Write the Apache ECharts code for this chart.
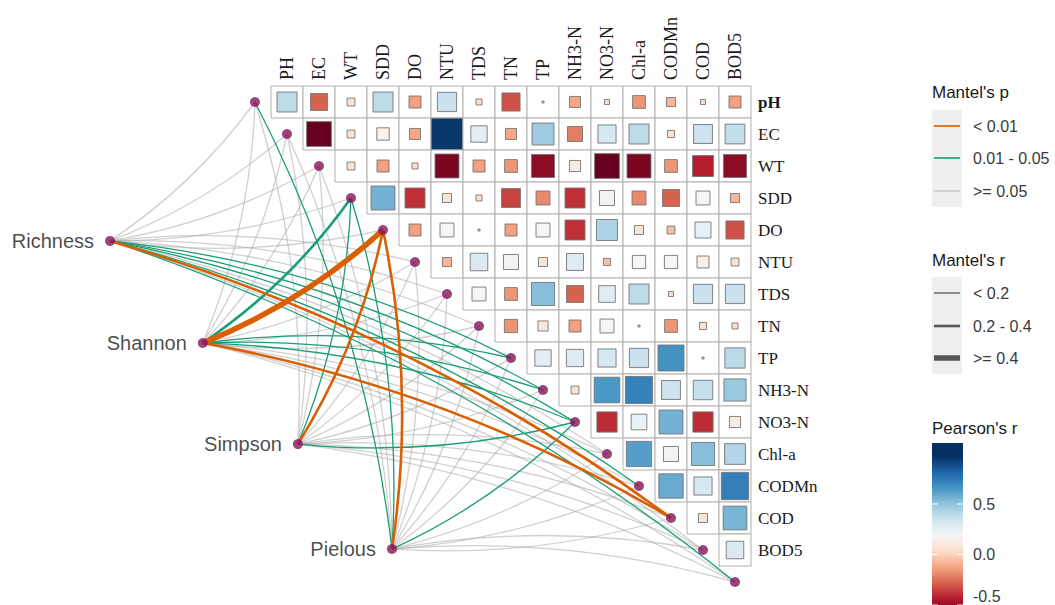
<!DOCTYPE html>
<html>
<head>
<meta charset="utf-8">
<script src="https://cdn.jsdelivr.net/npm/echarts@6/dist/echarts.min.js"></script>
<style>
  html, body { margin: 0; padding: 0; background: #ffffff; }
  #chart { width: 1055px; height: 605px; }
</style>
</head>
<body>
<div id="chart"></div>
<script>
// ---- data -------------------------------------------------------------
const colLabels = ['PH', 'EC', 'WT', 'SDD', 'DO', 'NTU', 'TDS', 'TN', 'TP', 'NH3-N', 'NO3-N', 'Chl-a', 'CODMn', 'COD', 'BOD5'];
const rowLabels = ['pH', 'EC', 'WT', 'SDD', 'DO', 'NTU', 'TDS', 'TN', 'TP', 'NH3-N', 'NO3-N', 'Chl-a', 'CODMn', 'COD', 'BOD5'];

// Pearson's r, row i holds the values for columns i .. 14
const pearsonPH    = [0.39, -0.28, 0.06, 0.39, -0.14, 0.36, 0.035, -0.32, 0.004, -0.12, 0.025, -0.16, -0.08, 0.025, -0.14];
const pearsonEC    = [-0.60, 0.06, 0.15, -0.12, 0.95, 0.26, -0.12, 0.47, -0.22, 0.32, 0.39, 0.05, 0.35, 0.38];
const pearsonWT    = [0.06, -0.14, 0.035, -0.56, -0.14, -0.16, -0.52, 0.12, -0.60, -0.56, -0.16, -0.43, -0.52];
const pearsonSDD   = [0.56, -0.39, 0.08, 0.035, -0.35, -0.19, -0.39, 0.22, -0.19, -0.28, 0.19, -0.08];
const pearsonDO    = [-0.14, 0.19, 0.004, -0.14, 0.19, -0.39, 0.43, 0.08, -0.06, 0.25, -0.32];
const pearsonNTU   = [-0.08, 0.30, 0.22, 0.08, 0.28, -0.05, 0.17, 0.17, 0.14, 0.06];
const pearsonTDS   = [0.19, -0.16, 0.52, -0.28, 0.27, 0.39, 0.025, 0.36, 0.36];
const pearsonTN    = [-0.17, 0.10, -0.14, 0.19, 0.004, -0.16, 0.05, 0.035];
const pearsonTP    = [0.26, 0.29, 0.32, 0.36, 0.66, 0.004, 0.40];
const pearsonNH3N  = [0.06, 0.64, 0.72, 0.35, 0.37, 0.48];
const pearsonNO3N  = [-0.40, 0.24, 0.56, -0.40, 0.12];
const pearsonChla  = [0.62, 0.22, 0.52, 0.42];
const pearsonCODMn = [0.58, 0.32, 0.73];
const pearsonCOD   = [0.08, 0.55];
const pearsonBOD5  = [0.30];
const pearsonRows = [pearsonPH, pearsonEC, pearsonWT, pearsonSDD, pearsonDO, pearsonNTU, pearsonTDS,
  pearsonTN, pearsonTP, pearsonNH3N, pearsonNO3N, pearsonChla, pearsonCODMn, pearsonCOD, pearsonBOD5];

// Mantel tests of each diversity index against the 16 link anchors
const specNames = ['Richness', 'Shannon', 'Simpson', 'Pielous'];
const richnessR = [0.05, 0.02, 0.09, 0.06, 0.12, 0.03, 0.08, 0.10, 0.16, 0.17, 0.18, 0.11, 0.17, 0.24, 0.12, 0.15];
const richnessP = [0.41, 0.63, 0.22, 0.35, 0.12, 0.58, 0.27, 0.19, 0.034, 0.028, 0.021, 0.088, 0.031, 0.006, 0.072, 0.042];
const shannonR  = [0.03, 0.04, 0.07, 0.22, 0.46, 0.05, 0.09, 0.10, 0.16, 0.15, 0.18, 0.11, 0.12, 0.23, 0.10, 0.11];
const shannonP  = [0.52, 0.47, 0.31, 0.026, 0.001, 0.44, 0.23, 0.16, 0.038, 0.041, 0.018, 0.095, 0.067, 0.008, 0.11, 0.083];
const simpsonR  = [0.06, 0.03, 0.08, 0.16, 0.31, 0.02, 0.07, 0.09, 0.11, 0.12, 0.16, 0.10, 0.08, 0.12, 0.09, 0.07];
const simpsonP  = [0.36, 0.55, 0.29, 0.039, 0.004, 0.62, 0.33, 0.21, 0.14, 0.12, 0.045, 0.17, 0.26, 0.09, 0.19, 0.31];
const pielousR  = [0.15, 0.03, 0.06, 0.17, 0.28, 0.02, 0.05, 0.08, 0.10, 0.11, 0.16, 0.09, 0.11, 0.10, 0.08, 0.07];
const pielousP  = [0.044, 0.51, 0.38, 0.033, 0.007, 0.57, 0.42, 0.27, 0.18, 0.15, 0.036, 0.22, 0.13, 0.16, 0.24, 0.29];
const mantelR = [richnessR, shannonR, simpsonR, pielousR];
const mantelP = [richnessP, shannonP, simpsonP, pielousP];

// legend texts and colour-bar ticks
const mantelPLabels = ['< 0.01', '0.01 - 0.05', '>= 0.05'];
const mantelRLabels = ['< 0.2', '0.2 - 0.4', '>= 0.4'];
const pearsonTicks = [0.5, 0.0, -0.5];

// ---- layout & styles ----------------------------------------------------
// node positions in cell units (column, row)
const nodeSpots = [[-5.53, 4.34], [-2.63, 7.53], [0.34, 10.69], [3.28, 13.97]];
const SERIF = "'Liberation Serif', 'DejaVu Serif', serif";
const SANS = "'Liberation Sans', Arial, 'DejaVu Sans', sans-serif";
const RDBU = ['#67001f', '#b2182b', '#d6604d', '#f4a582', '#fddbc7', '#f7f7f7',
              '#d1e5f0', '#92c5de', '#4393c3', '#2166ac', '#053061'];
const colorDomain = [-0.6, 0.97];
const pColors = ['#D95F02', '#1B9E77', 'rgba(170,170,170,0.55)'];
const rWidths = [1.3, 2.6, 5.5];
const NODE_COLOR = '#85135A';

function hexToRgb(h) {
  const n = parseInt(h.slice(1), 16);
  return [(n >> 16) & 255, (n >> 8) & 255, n & 255];
}
function pearsonColor(v) {
  let t = (v - colorDomain[0]) / (colorDomain[1] - colorDomain[0]);
  t = Math.max(0, Math.min(1, t)) * (RDBU.length - 1);
  const i = Math.min(Math.floor(t), RDBU.length - 2);
  const f = t - i;
  const a = hexToRgb(RDBU[i]), b = hexToRgb(RDBU[i + 1]);
  const c = a.map((x, k) => Math.round(x + (b[k] - x) * f));
  return 'rgb(' + c.join(',') + ')';
}
function pClass(p) { return p < 0.01 ? 0 : (p < 0.05 ? 1 : 2); }
function rClass(r) { return r < 0.2 ? 0 : (r < 0.4 ? 1 : 2); }

// matrix cells
const cellData = [];
pearsonRows.forEach((row, i) => {
  row.forEach((v, k) => cellData.push([i + k, i, v]));
});

// anchors sit one column to the left of each row start
const anchorCount = richnessR.length;
const anchorData = [];
for (let k = 0; k < anchorCount; k++) anchorData.push([k - 1, k]);

// links: grey first, then green, orange on top
const links = [];
specNames.forEach((name, s) => {
  for (let k = 0; k < anchorCount; k++) {
    const from = nodeSpots[s], to = anchorData[k];
    const pc = pClass(mantelP[s][k]);
    const rc = rClass(mantelR[s][k]);
    links.push({
      order: 2 - pc,
      coords: [from, to],
      lineStyle: {
        color: pColors[pc],
        width: rWidths[rc],
        curveness: to[1] > from[1] ? 0.09 : -0.09,
        opacity: 1
      }
    });
  }
});
links.sort((a, b) => a.order - b.order);

// colour bar geometry
const bar = { x: 932, top: 443, bottom: 605, w: 31, zeroY: 554.5, perUnit: 101 };
const barStops = [];
for (let y = bar.top; y <= bar.bottom; y += 6) {
  const v = (bar.zeroY - y) / bar.perUnit;
  barStops.push({ offset: (y - bar.top) / (bar.bottom - bar.top), color: pearsonColor(v) });
}

const legendGraphics = [];
function legendTitle(text, y) {
  legendGraphics.push({ type: 'text', x: 932, y: y, silent: true,
    style: { text: text, fontSize: 17, fontFamily: SANS, fill: '#1a1a1a', verticalAlign: 'middle' } });
}
function legendLabel(text, y) {
  legendGraphics.push({ type: 'text', x: 973, y: y, silent: true,
    style: { text: text, fontSize: 16, fontFamily: SANS, fill: '#3a3a3a', verticalAlign: 'middle' } });
}
// Mantel's p
legendTitle("Mantel's p", 92);
legendGraphics.push({ type: 'rect', silent: true, shape: { x: 932, y: 110, width: 30, height: 97 }, style: { fill: '#efefef' } });
[126, 158, 191].forEach((y, i) => {
  legendGraphics.push({ type: 'line', silent: true, shape: { x1: 934, y1: y, x2: 960, y2: y },
    style: { stroke: pColors[i], lineWidth: 1.6 } });
  legendLabel(mantelPLabels[i], y);
});
// Mantel's r
legendTitle("Mantel's r", 260);
legendGraphics.push({ type: 'rect', silent: true, shape: { x: 932, y: 277, width: 30, height: 97 }, style: { fill: '#efefef' } });
[293, 326, 358].forEach((y, i) => {
  legendGraphics.push({ type: 'line', silent: true, shape: { x1: 934, y1: y, x2: 960, y2: y },
    style: { stroke: '#555555', lineWidth: rWidths[i] } });
  legendLabel(mantelRLabels[i], y);
});
// Pearson's r
legendTitle("Pearson's r", 428);
legendGraphics.push({ type: 'rect', silent: true,
  shape: { x: bar.x, y: bar.top, width: bar.w, height: bar.bottom - bar.top },
  style: { fill: { type: 'linear', x: 0, y: 0, x2: 0, y2: 1, colorStops: barStops } } });
pearsonTicks.forEach(v => {
  const y = bar.zeroY - bar.perUnit * v;
  legendGraphics.push({ type: 'line', silent: true, shape: { x1: bar.x, y1: y, x2: bar.x + 6, y2: y }, style: { stroke: '#ffffff', lineWidth: 1 } });
  legendGraphics.push({ type: 'line', silent: true, shape: { x1: bar.x + bar.w - 6, y1: y, x2: bar.x + bar.w, y2: y }, style: { stroke: '#ffffff', lineWidth: 1 } });
  // keep the lowest tick text inside the page
  legendLabel(v.toFixed(1), Math.min(y, 596));
});

// ---- chart ----------------------------------------------------------------
const chart = echarts.init(document.getElementById('chart'), null, { renderer: 'svg' });
chart.setOption({
  animation: false,
  backgroundColor: '#ffffff',
  grid: { left: 95, top: 86, width: 656, height: 512 },
  xAxis: { type: 'value', min: -6, max: 14.5, show: false },
  yAxis: { type: 'value', min: -0.5, max: 15.5, inverse: true, show: false },
  graphic: legendGraphics,
  series: [
    {
      // correlation matrix: cell frame + square sized by |r|
      type: 'custom',
      coordinateSystem: 'cartesian2d',
      silent: true,
      z: 1,
      data: cellData,
      renderItem: function (params, api) {
        const c = api.value(0), r = api.value(1), v = api.value(2);
        const p0 = api.coord([c - 0.5, r - 0.5]);
        const p1 = api.coord([c + 0.5, r + 0.5]);
        const ctr = api.coord([c, r]);
        const w = p1[0] - p0[0], h = p1[1] - p0[1];
        const side = w * Math.sqrt(Math.abs(v));
        return {
          type: 'group',
          children: [
            { type: 'rect', shape: { x: p0[0], y: p0[1], width: w, height: h },
              style: { fill: '#ffffff', stroke: '#b0b0b0', lineWidth: 1 } },
            { type: 'rect', shape: { x: ctr[0] - side / 2, y: ctr[1] - side / 2, width: side, height: side },
              style: { fill: pearsonColor(v), stroke: '#767676', lineWidth: 0.9 } }
          ]
        };
      }
    },
    {
      // column names above the matrix
      type: 'custom',
      coordinateSystem: 'cartesian2d',
      silent: true,
      data: colLabels.map((n, j) => [j, -0.5]),
      renderItem: function (params, api) {
        const p = api.coord([api.value(0), api.value(1)]);
        return { type: 'text', x: p[0], y: p[1] - 6, rotation: Math.PI / 2,
          style: { text: colLabels[params.dataIndex], fontSize: 18, fontFamily: SERIF,
                   fill: '#1a1a1a', align: 'left', verticalAlign: 'middle' } };
      }
    },
    {
      // row names right of the matrix
      type: 'custom',
      coordinateSystem: 'cartesian2d',
      silent: true,
      data: rowLabels.map((n, i) => [14.5, i]),
      renderItem: function (params, api) {
        const p = api.coord([api.value(0), api.value(1)]);
        return { type: 'text', x: p[0] + 7, y: p[1],
          style: { text: rowLabels[params.dataIndex], fontSize: 17, fontFamily: SERIF,
                   fontWeight: params.dataIndex === 0 ? 'bold' : 'normal',
                   fill: '#1a1a1a', align: 'left', verticalAlign: 'middle' } };
      }
    },
    {
      type: 'lines',
      coordinateSystem: 'cartesian2d',
      silent: true,
      z: 2,
      data: links.map(l => ({ coords: l.coords, lineStyle: l.lineStyle }))
    },
    {
      type: 'scatter',
      silent: true,
      z: 3,
      symbol: 'circle',
      symbolSize: 10,
      clip: false,
      itemStyle: { color: NODE_COLOR },
      data: anchorData
    },
    {
      type: 'scatter',
      silent: true,
      z: 3,
      symbol: 'circle',
      symbolSize: 10,
      clip: false,
      itemStyle: { color: NODE_COLOR },
      label: {
        show: true, position: 'left', distance: 11,
        formatter: p => specNames[p.dataIndex],
        fontSize: 20, fontFamily: SANS, color: '#1a1a1a'
      },
      data: nodeSpots
    }
  ]
});
</script>
</body>
</html>
